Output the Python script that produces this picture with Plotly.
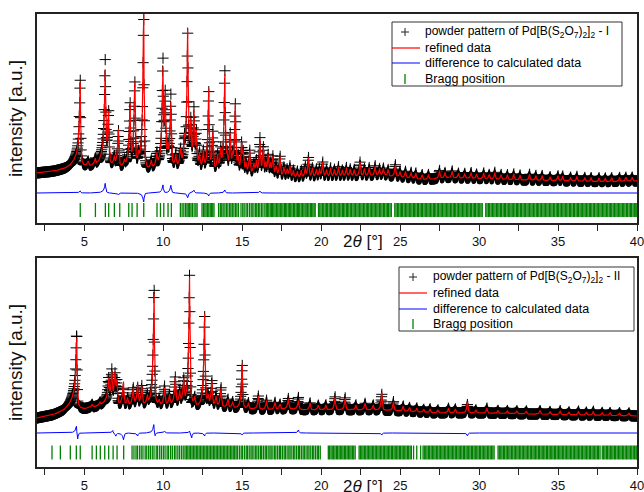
import numpy as np
import plotly.graph_objects as go

# ---------------- data ----------------
step = 0.02
two_theta = np.round(np.arange(2.0, 40.0 + step / 2, step), 3)

# ----- pattern I -----
bg_I_x = [2.0, 3.0, 3.8, 4.4, 4.8, 5.5, 6.2, 7.0, 8.0, 9.0, 9.5, 10.8, 11.3, 12.3, 13.5, 14.2,
          15.5, 17.0, 18.5, 20.0, 22.0, 24.0, 26.5, 28.0, 30.0, 32.0, 35.0, 38.0, 40.0]
bg_I_y = [50, 51.5, 54, 57, 56, 56, 57, 54, 53, 52, 54, 54, 55, 52, 50, 49,
          48, 46, 44, 45, 46, 47, 43, 45, 44, 43, 42, 41, 42]

peak_I_pos = [4.74, 5.25, 5.70, 6.33, 6.54, 6.90, 7.17, 7.55, 7.90, 8.20,
              8.45, 8.76, 9.25, 9.60, 9.98, 10.13, 10.30, 10.49, 10.80, 11.10,
              11.35, 11.55, 11.75, 11.95, 12.10, 12.30, 12.55, 12.88, 13.15, 13.45,
              13.65, 13.90, 14.05, 14.25, 14.40, 14.57, 14.75, 14.97, 15.07, 15.25,
              15.48, 15.75, 15.90, 16.13, 16.34, 16.50, 16.65, 16.80, 16.95, 17.15,
              17.40, 17.65, 17.85, 18.03, 18.25, 18.50, 18.75, 19.00, 19.20, 19.45,
              19.70, 19.90, 20.10, 20.35, 20.60, 20.85, 21.10, 21.35, 21.60, 21.85,
              22.10, 22.47, 22.75, 23.05, 23.42, 23.70, 23.95, 24.25, 24.70, 25.00,
              25.35, 25.70, 26.00, 26.40, 26.80, 27.50, 27.85, 28.30, 28.70, 29.10,
              29.50, 29.85, 30.30, 30.65, 31.00, 31.40, 31.80, 32.20, 32.60, 33.20,
              33.60, 34.00, 34.50, 35.00, 35.30, 35.80, 36.20, 36.70, 37.10, 37.60,
              38.00, 38.40, 38.90, 39.30, 39.70]
peak_I_int = [84, 5, 6, 92, 53, 8, 40, 6, 60, 84,
              10, 159, 8, 12, 87, 72, 15, 67, 12, 15,
              20, 139, 43, 54, 35, 15, 18, 80, 40, 15,
              20, 95, 15, 37, 12, 70, 15, 27, 20, 10,
              23, 10, 12, 35, 26, 10, 20, 10, 20, 10,
              20, 10, 8, 12, 8, 7, 8, 10, 20, 10,
              8, 8, 15, 8, 9, 8, 10, 7, 9, 8,
              7, 15, 8, 9, 10, 7, 8, 7, 12, 6,
              7, 6, 6, 5, 5, 8, 6, 7, 5, 5,
              6, 5, 6, 5, 7, 5, 5, 6, 5, 6,
              5, 5, 4, 5, 5, 4, 5, 4, 4, 4,
              4, 4, 4, 4, 4]
resid_I_pos = [4.74, 6.33, 7.17, 8.76, 9.98, 10.49, 11.55, 11.95, 12.88, 13.90, 16.13]
resid_I_amp = [2, 10, -2, -9, 8, 8, -5, 3, -3, 3, 2]
diff_I_offset = 30
bragg_I_level = 13
bragg_I = [4.74, 5.70, 6.33, 6.54, 6.90, 7.24, 7.81, 8.02, 8.34, 8.76,
           9.60, 9.82, 10.03, 10.30, 10.51,
           11.08, 11.19, 11.30, 11.41, 11.50, 11.58, 11.66, 11.75, 11.84, 11.95, 12.06, 12.14,
           12.45, 12.54, 12.63, 12.71, 12.80, 12.88, 12.97, 13.05, 13.13, 13.21,
           13.50, 13.61, 13.70, 13.79, 13.90, 14.00, 14.09, 14.20, 14.28, 14.37, 14.47, 14.57,
           14.66, 14.76, 14.92, 15.03, 15.12, 15.24, 15.33, 15.45, 15.56, 15.63, 15.74, 15.85,
           15.92, 16.02, 16.11, 16.22, 16.31, 16.43, 16.52, 16.60, 16.68, 16.77, 16.85, 16.92,
           17.00, 17.08, 17.17, 17.25, 17.33, 17.41, 17.50, 17.58, 17.67, 17.74, 17.82, 17.91,
           17.99, 18.07, 18.15, 18.24, 18.32, 18.41, 18.49, 18.56, 18.64, 18.73, 18.81, 18.90,
           18.98, 19.05, 19.14, 19.22, 19.31, 19.39, 19.47, 19.55, 19.62, 19.83, 19.91, 19.99,
           20.08, 20.16, 20.25, 20.33, 20.41, 20.50, 20.58, 20.66, 20.75, 20.83, 20.92, 21.00,
           21.08, 21.17, 21.25, 21.34, 21.42, 21.50, 21.59, 21.67, 21.75, 21.84, 21.92, 22.01,
           22.09, 22.17, 22.26, 22.34, 22.43, 22.51, 22.59, 22.68, 22.76, 22.85, 22.93, 23.01,
           23.10, 23.18, 23.27, 23.35, 23.43, 23.52, 23.60, 23.69, 23.77, 23.85, 23.94, 24.02,
           24.11, 24.19, 24.27, 24.36, 24.44, 24.66, 24.74, 24.83, 24.91, 25.00, 25.08, 25.16,
           25.25, 25.33, 25.42, 25.50, 25.58, 25.67, 25.75, 25.84, 25.92, 26.00, 26.09, 26.17,
           26.26, 26.34, 26.42, 26.51, 26.59, 26.68, 26.76, 26.84, 26.93, 27.01, 27.10, 27.18,
           27.26, 27.35, 27.43, 27.52, 27.60, 27.68, 27.77, 27.85, 27.94, 28.02, 28.10, 28.19,
           28.27, 28.36, 28.44, 28.52, 28.61, 28.69, 28.78, 28.86, 28.94, 29.03, 29.11, 29.20,
           29.28, 29.36, 29.45, 29.53, 29.62, 29.70, 29.78, 29.87, 29.95, 30.04, 30.12, 30.20,
           30.42, 30.50, 30.59, 30.67, 30.76, 30.84, 30.93, 31.01, 31.10, 31.18, 31.26, 31.35,
           31.43, 31.52, 31.60, 31.68, 31.77, 31.85, 31.94, 32.02, 32.10, 32.19, 32.27, 32.36,
           32.44, 32.52, 32.61, 32.69, 32.78, 32.86, 32.94, 33.03, 33.11, 33.20, 33.28, 33.36,
           33.45, 33.53, 33.62, 33.70, 33.78, 33.87, 33.95, 34.04, 34.12, 34.20, 34.29, 34.37,
           34.46, 34.54, 34.62, 34.71, 34.79, 34.88, 34.96, 35.04, 35.13, 35.21, 35.30, 35.38,
           35.46, 35.55, 35.63, 35.72, 35.80, 35.88, 35.97, 36.05, 36.14, 36.22, 36.30, 36.39,
           36.47, 36.56, 36.64, 36.72, 36.81, 36.89, 36.98, 37.06, 37.14, 37.23, 37.31, 37.40,
           37.48, 37.56, 37.65, 37.73, 37.82, 37.90, 37.98, 38.07, 38.15, 38.24, 38.32, 38.40,
           38.49, 38.57, 38.66, 38.74, 38.82, 38.91, 38.99, 39.08, 39.16, 39.24, 39.33, 39.41,
           39.50, 39.58, 39.66, 39.75, 39.83, 39.92, 39.99]

# ----- pattern II -----
bg_II_x = [2.0, 3.0, 3.7, 4.1, 4.35, 4.5, 4.58, 5.0, 5.8, 6.3, 7.3, 8.0, 8.9, 9.7, 10.5, 11.1,
           11.9, 12.2, 13.4, 14.3, 15.3, 16.5, 18.0, 19.0, 21.0, 23.0, 25.0, 27.0, 30.0, 33.0,
           36.0, 40.0]
bg_II_y = [49, 52, 56, 60, 63, 64, 59, 58, 60, 62, 60, 60, 61, 60, 61, 62,
           61, 60, 60, 59, 58, 57, 58, 57, 57, 57, 56, 54, 54, 53,
           52, 51]
peak_II_pos = [4.52, 5.50, 6.00, 6.55, 6.75, 6.95, 7.07, 7.48, 7.75, 8.10,
               8.38, 8.65, 9.00, 9.42, 9.75, 10.09, 10.40, 10.77, 11.05, 11.30,
               11.67, 12.00, 12.62, 12.85, 13.08, 13.35, 13.66, 14.10, 14.40, 15.00,
               15.40, 16.03, 16.55, 17.08, 17.40, 17.93, 18.56, 19.30, 19.83, 20.30,
               20.88, 21.52, 22.20, 22.79, 23.30, 23.84, 24.58, 25.20, 25.60, 26.06,
               26.50, 26.90, 27.40, 28.07, 28.50, 29.27, 29.80, 30.50, 31.20, 31.80,
               32.40, 33.00, 33.87, 34.50, 35.14, 35.70, 36.30, 36.80, 37.24, 37.80,
               38.30, 38.90, 39.50]
peak_II_int = [66, 3, 3, 22, 30, 28, 25, 24, 8, 17,
               20, 20, 8, 112, 6, 18, 10, 28, 12, 23,
               133, 8, 92, 10, 25, 10, 19, 8, 6, 45,
               6, 14, 10, 7, 5, 11, 9, 7, 5, 5,
               13, 12, 5, 7, 5, 18, 9, 5, 4, 4,
               3, 4, 3, 5, 4, 12, 3, 5, 3, 3,
               3, 3, 4, 3, 4, 3, 4, 3, 4, 3,
               3, 3, 3]
resid_II_pos = [4.50, 4.58, 6.80, 7.00, 7.49, 8.38, 9.40, 9.48, 10.09, 11.67, 11.80, 12.62,
                15.00, 18.56, 23.84, 29.27]
resid_II_amp = [10, -7, 3, -3, -7, -3, 10, -4, 2, 3, -5, -3, -2, 3, -2, -3]
diff_II_offset = 34
bragg_II_level = 14.5
bragg_II = [2.95, 3.48, 4.11, 4.49, 4.74, 5.49, 5.76, 6.01, 6.29, 6.54, 6.82, 7.07, 7.49,
            8.02, 8.14, 8.27, 8.36, 8.49, 8.60, 8.71, 8.85, 8.95, 9.07, 9.18, 9.30, 9.41,
            9.55, 9.64, 9.77, 9.88, 10.00, 10.11, 10.24, 10.33, 10.46, 10.57, 10.70, 10.80,
            10.92, 11.03, 11.15, 11.26, 11.37, 11.46, 11.55, 11.64, 11.73, 11.82, 11.91, 12.00,
            12.09, 12.18, 12.27, 12.36, 12.45, 12.54, 12.63, 12.72, 12.81, 12.90, 12.99, 13.08,
            13.17, 13.26, 13.35, 13.44, 13.53, 13.62, 13.71, 13.80, 13.89, 13.98, 14.07, 14.16,
            14.25, 14.34, 14.43, 14.52, 14.61, 14.70, 14.82, 14.93, 15.02, 15.14, 15.25, 15.33,
            15.44, 15.55, 15.63, 15.74, 15.85, 15.93, 16.04, 16.15, 16.23, 16.34, 16.45, 16.53,
            16.64, 16.75, 16.83, 16.94, 17.05, 17.13, 17.24, 17.35, 17.43, 17.54, 17.65, 17.73,
            17.84, 17.95, 18.03, 18.14, 18.25, 18.33, 18.44, 18.55, 18.63, 18.74, 18.85, 18.93,
            19.04, 19.15, 19.23, 19.34, 19.45, 19.53, 19.64, 19.75, 19.83, 19.94,
            20.45, 20.53, 20.62, 20.70, 20.79, 20.87, 20.96, 21.04, 21.13, 21.21, 21.30, 21.38,
            21.47, 21.55, 21.64, 21.72, 21.81, 21.89, 21.98, 22.06, 22.15, 22.40, 22.48, 22.57,
            22.65, 22.74, 22.82, 22.91, 22.99, 23.08, 23.16, 23.25, 23.33, 23.42, 23.50, 23.59,
            23.67, 23.76, 23.84, 23.93, 24.01, 24.10, 24.18, 24.27, 24.35, 24.44, 24.52, 24.61,
            24.69, 24.78, 24.86, 24.95, 25.03, 25.12, 25.20, 25.29, 25.37, 25.46, 25.54, 25.63,
            25.71, 25.85, 26.05, 26.30, 26.45, 26.53, 26.62, 26.70, 26.79, 26.87, 26.96, 27.04,
            27.13, 27.21, 27.30, 27.38, 27.47, 27.55, 27.64, 27.72, 27.81, 27.89, 27.98, 28.06,
            28.15, 28.23, 28.32, 28.40, 28.49, 28.57, 28.66, 28.74, 28.83, 28.91, 29.00, 29.08,
            29.17, 29.25, 29.34, 29.42, 29.51, 29.59, 29.68, 29.76, 29.85, 29.93, 30.02, 30.10,
            30.19, 30.27, 30.36, 30.44, 30.53, 30.61, 30.70, 30.78, 30.87, 30.95, 31.20, 31.28,
            31.37, 31.45, 31.54, 31.62, 31.71, 31.79, 31.88, 31.96, 32.05, 32.13, 32.22, 32.30,
            32.39, 32.47, 32.56, 32.64, 32.73, 32.81, 32.90, 32.98, 33.07, 33.15, 33.24, 33.32,
            33.41, 33.49, 33.58, 33.66, 33.75, 33.83, 33.92, 34.00, 34.09, 34.17, 34.26, 34.34,
            34.43, 34.51, 34.60, 34.68, 34.77, 34.85, 34.94, 35.02, 35.11, 35.19, 35.28, 35.36,
            35.45, 35.53, 35.62, 35.70, 35.79, 35.87, 35.96, 36.04, 36.13, 36.21, 36.30, 36.38,
            36.47, 36.55, 36.64, 36.72, 36.81, 36.89, 36.98, 37.06, 37.15, 37.23, 37.32, 37.40,
            37.49, 37.57, 37.66, 37.80, 37.89, 37.97, 38.06, 38.14, 38.23, 38.31, 38.40, 38.48,
            38.57, 38.65, 38.74, 38.82, 38.91, 38.99, 39.08, 39.16, 39.25, 39.33, 39.42, 39.50,
            39.59, 39.67, 39.76, 39.84, 39.93, 39.99]

legend_labels_I = ["powder pattern of Pd[B(S<sub>2</sub>O<sub>7</sub>)<sub>2</sub>]<sub>2</sub> - I",
                   "refined data", "difference to calculated data", "Bragg position"]
legend_labels_II = ["powder pattern of Pd[B(S<sub>2</sub>O<sub>7</sub>)<sub>2</sub>]<sub>2</sub> - II",
                    "refined data", "difference to calculated data", "Bragg position"]


# ---------------- profile model ----------------
def peak_shape(x, x0):
    d = x - x0
    w = np.where(d < 0, 0.06, 0.035)
    core = 1.0 / (1.0 + (d / w) ** 2)
    tau = 0.3 * 4.5 / x0
    tail = np.where(d <= 0, np.exp(np.minimum(d, 0) / tau), 0.0)
    return 0.75 * core + 0.25 * tail


def profile(pos, amp):
    y = np.zeros_like(two_theta, dtype=float)
    for p, a in zip(pos, amp):
        y += a * peak_shape(two_theta, p)
    return y


calc_I = np.interp(two_theta, bg_I_x, bg_I_y) + profile(peak_I_pos, peak_I_int)
res_I = profile(resid_I_pos, resid_I_amp)
obs_I = calc_I + res_I
diff_I = res_I + diff_I_offset

calc_II = np.interp(two_theta, bg_II_x, bg_II_y) + profile(peak_II_pos, peak_II_int)
res_II = profile(resid_II_pos, resid_II_amp)
obs_II = calc_II + res_II
diff_II = res_II + diff_II_offset

# ---------------- figure ----------------
fig = go.Figure()
panels = [
    ("x", "y", obs_I, calc_I, diff_I, bragg_I, bragg_I_level),
    ("x2", "y2", obs_II, calc_II, diff_II, bragg_II, bragg_II_level),
]
for xa, ya, obs, calc, diff, bragg, blev in panels:
    fig.add_trace(go.Scatter(
        x=two_theta, y=obs, mode="markers", xaxis=xa, yaxis=ya, showlegend=False,
        marker=dict(symbol="cross-thin", size=8, color="black",
                    line=dict(width=1, color="black"))))
    fig.add_trace(go.Scatter(
        x=two_theta, y=calc, mode="lines", xaxis=xa, yaxis=ya, showlegend=False,
        line=dict(color="#ff0000", width=1.2)))
    fig.add_trace(go.Scatter(
        x=two_theta, y=diff, mode="lines", xaxis=xa, yaxis=ya, showlegend=False,
        line=dict(color="#0000ff", width=1)))
    fig.add_trace(go.Scatter(
        x=bragg, y=[blev] * len(bragg), mode="markers", xaxis=xa, yaxis=ya, showlegend=False,
        marker=dict(symbol="line-ns-open", size=10, color="#008000",
                    line=dict(width=1.3, color="#008000"))))

font_family = "Liberation Sans, Arial, sans-serif"
xcommon = dict(range=[2, 40], tick0=0, dtick=5, ticks="outside", ticklen=6, tickwidth=1,
               tickcolor="#222", showline=True, linecolor="#222", linewidth=1.5, mirror=True,
               showgrid=False, zeroline=False, automargin=False, ticklabeloverflow="allow",
               tickfont=dict(family=font_family, size=13, color="#111"),
               minor=dict(dtick=2.5, ticks="outside", ticklen=6, tickwidth=1, tickcolor="#222",
                          showgrid=False))
ycommon = dict(range=[0, 209], showticklabels=False, ticks="", showline=True, linecolor="#222",
               linewidth=1.5, mirror=True, showgrid=False, zeroline=False, automargin=False,
               title=dict(text="intensity [a.u.]", standoff=8,
                          font=dict(family=font_family, size=19, color="#111")))


# screen pixel -> paper coordinate (plot area spans 37..637 x 14..467)
def PX(sx):
    return (sx - 37) / 600.0


def PY(sy):
    return (467 - sy) / 453.0


shapes = []
annotations = []
legend_boxes = [
    # box x0, x1, y0, y1, row centres, text x, glyph x, line x0, line x1, labels
    (392, 622, 22, 86, [32, 48, 63, 79], 423, 405, 392, 420, legend_labels_I),
    (399, 634, 267, 331, [277, 293, 309, 324], 431, 413, 399, 427, legend_labels_II),
]
for bx0, bx1, by0, by1, rows, tx, gx, lx0, lx1, labels in legend_boxes:
    shapes.append(dict(type="rect", xref="paper", yref="paper", x0=PX(bx0), x1=PX(bx1),
                       y0=PY(by1), y1=PY(by0), line=dict(color="#333", width=1),
                       fillcolor="white", layer="above"))
    shapes.append(dict(type="line", xref="paper", yref="paper", x0=PX(gx - 4), x1=PX(gx + 4),
                       y0=PY(rows[0]), y1=PY(rows[0]), line=dict(color="#222", width=1)))
    shapes.append(dict(type="line", xref="paper", yref="paper", x0=PX(gx), x1=PX(gx),
                       y0=PY(rows[0] - 4), y1=PY(rows[0] + 4), line=dict(color="#222", width=1)))
    shapes.append(dict(type="line", xref="paper", yref="paper", x0=PX(lx0), x1=PX(lx1),
                       y0=PY(rows[1]), y1=PY(rows[1]), line=dict(color="#ff0000", width=1.2)))
    shapes.append(dict(type="line", xref="paper", yref="paper", x0=PX(lx0), x1=PX(lx1),
                       y0=PY(rows[2]), y1=PY(rows[2]), line=dict(color="#0000ff", width=1)))
    shapes.append(dict(type="line", xref="paper", yref="paper", x0=PX(gx), x1=PX(gx),
                       y0=PY(rows[3] - 5), y1=PY(rows[3] + 5), line=dict(color="#008000", width=1.3)))
    for i, (r, lab) in enumerate(zip(rows, labels)):
        annotations.append(dict(text=lab, xref="paper", yref="paper", x=PX(tx), y=PY(r),
                                xanchor="left", yanchor="middle", showarrow=False,
                                font=dict(family=font_family, size=12 if i == 0 else 12.5,
                                          color="black")))

annotations.append(dict(text="2<i>θ</i> [°]", x=22.65, xref="x", y=PY(241), yref="paper",
                        showarrow=False, xanchor="center", yanchor="middle",
                        font=dict(family=font_family, size=17, color="#111")))
annotations.append(dict(text="2<i>θ</i> [°]", x=22.65, xref="x2", y=PY(486), yref="paper",
                        showarrow=False, xanchor="center", yanchor="middle",
                        font=dict(family=font_family, size=17, color="#111")))

fig.update_layout(
    width=644, height=492,
    margin=dict(l=37, r=7, t=14, b=25, autoexpand=False),
    paper_bgcolor="white", plot_bgcolor="white",
    showlegend=False,
    xaxis=dict(domain=[0, 1], anchor="y", **xcommon),
    yaxis=dict(domain=[PY(223), 1], anchor="x", **ycommon),
    xaxis2=dict(domain=[0, 1], anchor="y2", **xcommon),
    yaxis2=dict(domain=[0, PY(258)], anchor="x2", **ycommon),
    shapes=shapes,
    annotations=annotations,
)

# remove the default page margin so the 644x492 figure fills the window exactly
fig.write_html("out.html", config={"displayModeBar": False},
               post_script="document.body.style.margin='0px';document.body.style.overflow='hidden';")
